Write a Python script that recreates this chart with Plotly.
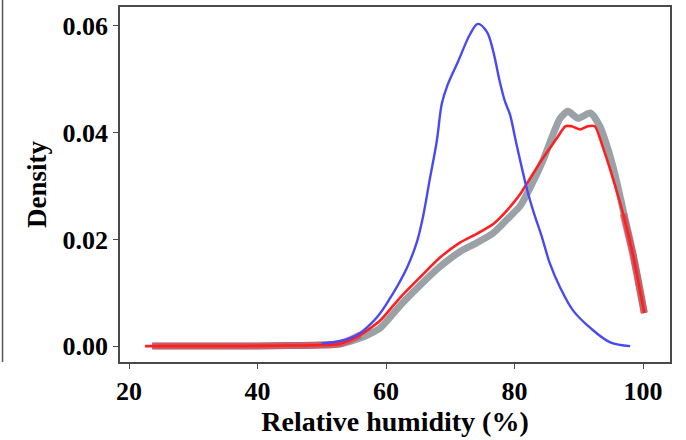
import numpy as np
import plotly.graph_objects as go

# Relative humidity (%) and kernel density estimates for three series
rh_blue = [50, 53, 55.5, 58.6, 61.1, 63.3, 64.8, 65.8, 66.8, 67.9, 68.7, 69.6,
           71.2, 73.1, 74.3, 75.7, 76.7, 77.7, 78.5, 79.3, 80.1, 80.9, 81.9, 82.9, 84.3,
           85.5, 87.1, 89.1, 91.8, 94.9, 98.0]
dens_blue = [0.0005, 0.001, 0.0021, 0.0054, 0.0099, 0.0148, 0.0195, 0.0245,
             0.0312, 0.0384, 0.0455, 0.0490, 0.0533, 0.0585, 0.0604, 0.0589, 0.0552, 0.0496,
             0.0459, 0.0434, 0.0390, 0.0347, 0.0296, 0.0254, 0.0203, 0.0155, 0.0110, 0.0067,
             0.0034, 0.0007, 0.0]

rh_gray = [23.6, 35, 45, 50, 52.8, 56.0, 59.1, 62.2, 65.3, 68.4, 71.5, 74.2, 76.7, 78.8, 80.9,
           82.4, 84.4, 86.0, 87.1, 88.3, 89.9, 91.8, 93.3, 94.4, 95.6, 97.0, 98.45, 100.2]
dens_gray = [0, 0, 0.0001, 0.0002, 0.0004, 0.0015, 0.0034, 0.0076, 0.0114, 0.0149, 0.0177,
             0.0194, 0.0212, 0.0237, 0.0263, 0.0296, 0.0347, 0.0397, 0.0427, 0.0440, 0.0427,
             0.0437, 0.0412, 0.0375, 0.0324, 0.0250, 0.0173, 0.0062]

rh_red = [22.5, 23.6, 35, 45, 50, 52.8, 56.0, 59.1, 62.2, 65.3, 68.4, 71.5, 74.2, 76.7, 78.8,
          80.9, 81.9, 84.4, 86.6, 87.9, 88.9, 90.2, 91.4, 92.5, 93.8, 95.3, 96.9, 98.4, 100.2]
dens_red = [0, 0, 0, 0.0001, 0.0002, 0.0004, 0.0021, 0.0048, 0.0091, 0.0129, 0.0166, 0.0194,
            0.0211, 0.0229, 0.0254, 0.0285, 0.0304, 0.0352, 0.0390, 0.0412, 0.0412, 0.0406,
            0.0412, 0.0412, 0.0371, 0.0315, 0.0248, 0.0173, 0.0062]

x_ticks = [20, 40, 60, 80, 100]
y_ticks = [0.00, 0.02, 0.04, 0.06]

FONT = "Liberation Serif"

fig = go.Figure()

fig.add_trace(go.Scatter(x=rh_gray, y=dens_gray, mode="lines",
                         line=dict(color="#9aa2a7", width=7, shape="spline", smoothing=0.6),
                         hoverinfo="skip", showlegend=False))

# translucent red where the red curve lies on the grey band
rr = np.array(rh_red)
dr = np.array(dens_red)
for m in ((rr >= rh_gray[0]) & (rr <= 56.5), rr >= 96.5):
    fig.add_trace(go.Scatter(x=rr[m], y=dr[m], mode="lines",
                             line=dict(color="rgba(235,30,45,0.5)", width=7, shape="spline", smoothing=0.6),
                             hoverinfo="skip", showlegend=False))

fig.add_trace(go.Scatter(x=rh_red, y=dens_red, mode="lines",
                         line=dict(color="#ff1f1f", width=2.6, shape="spline", smoothing=0.6),
                         showlegend=False))

fig.add_trace(go.Scatter(x=rh_blue, y=dens_blue, mode="lines",
                         line=dict(color="#4a4af2", width=2.4, shape="spline", smoothing=1.0),
                         showlegend=False))

axis_common = dict(showgrid=False, zeroline=False, showline=True, mirror=True,
                   linecolor="#4a4a4a", linewidth=1.5, ticks="outside", ticklen=5,
                   tickcolor="#4a4a4a", tickwidth=1.3,
                   tickfont=dict(family=FONT, size=26, color="black"))

fig.update_xaxes(range=[18.6, 104.2], tickvals=x_ticks,
                 ticktext=[f"<b>{v}</b>" for v in x_ticks],
                 title=dict(text="<b>Relative humidity (%)</b>",
                            font=dict(family=FONT, size=28, color="black"), standoff=5),
                 **axis_common)
fig.update_yaxes(range=[-0.00298, 0.06356], tickvals=y_ticks,
                 ticktext=[f"<b>{v:.2f}</b>" for v in y_ticks],
                 title=dict(text="<b>Density</b>",
                            font=dict(family=FONT, size=27, color="black"), standoff=8),
                 **axis_common)

# edge of the neighbouring panel
fig.add_shape(type="line", xref="paper", yref="paper",
              x0=-0.2136, x1=-0.2136, y0=0, y1=1.02,
              line=dict(color="#555555", width=1.5))

fig.update_layout(width=686, height=440,
                  margin=dict(l=120, r=16, t=5, b=78),
                  paper_bgcolor="white", plot_bgcolor="white")

fig.write_html("out.html")
